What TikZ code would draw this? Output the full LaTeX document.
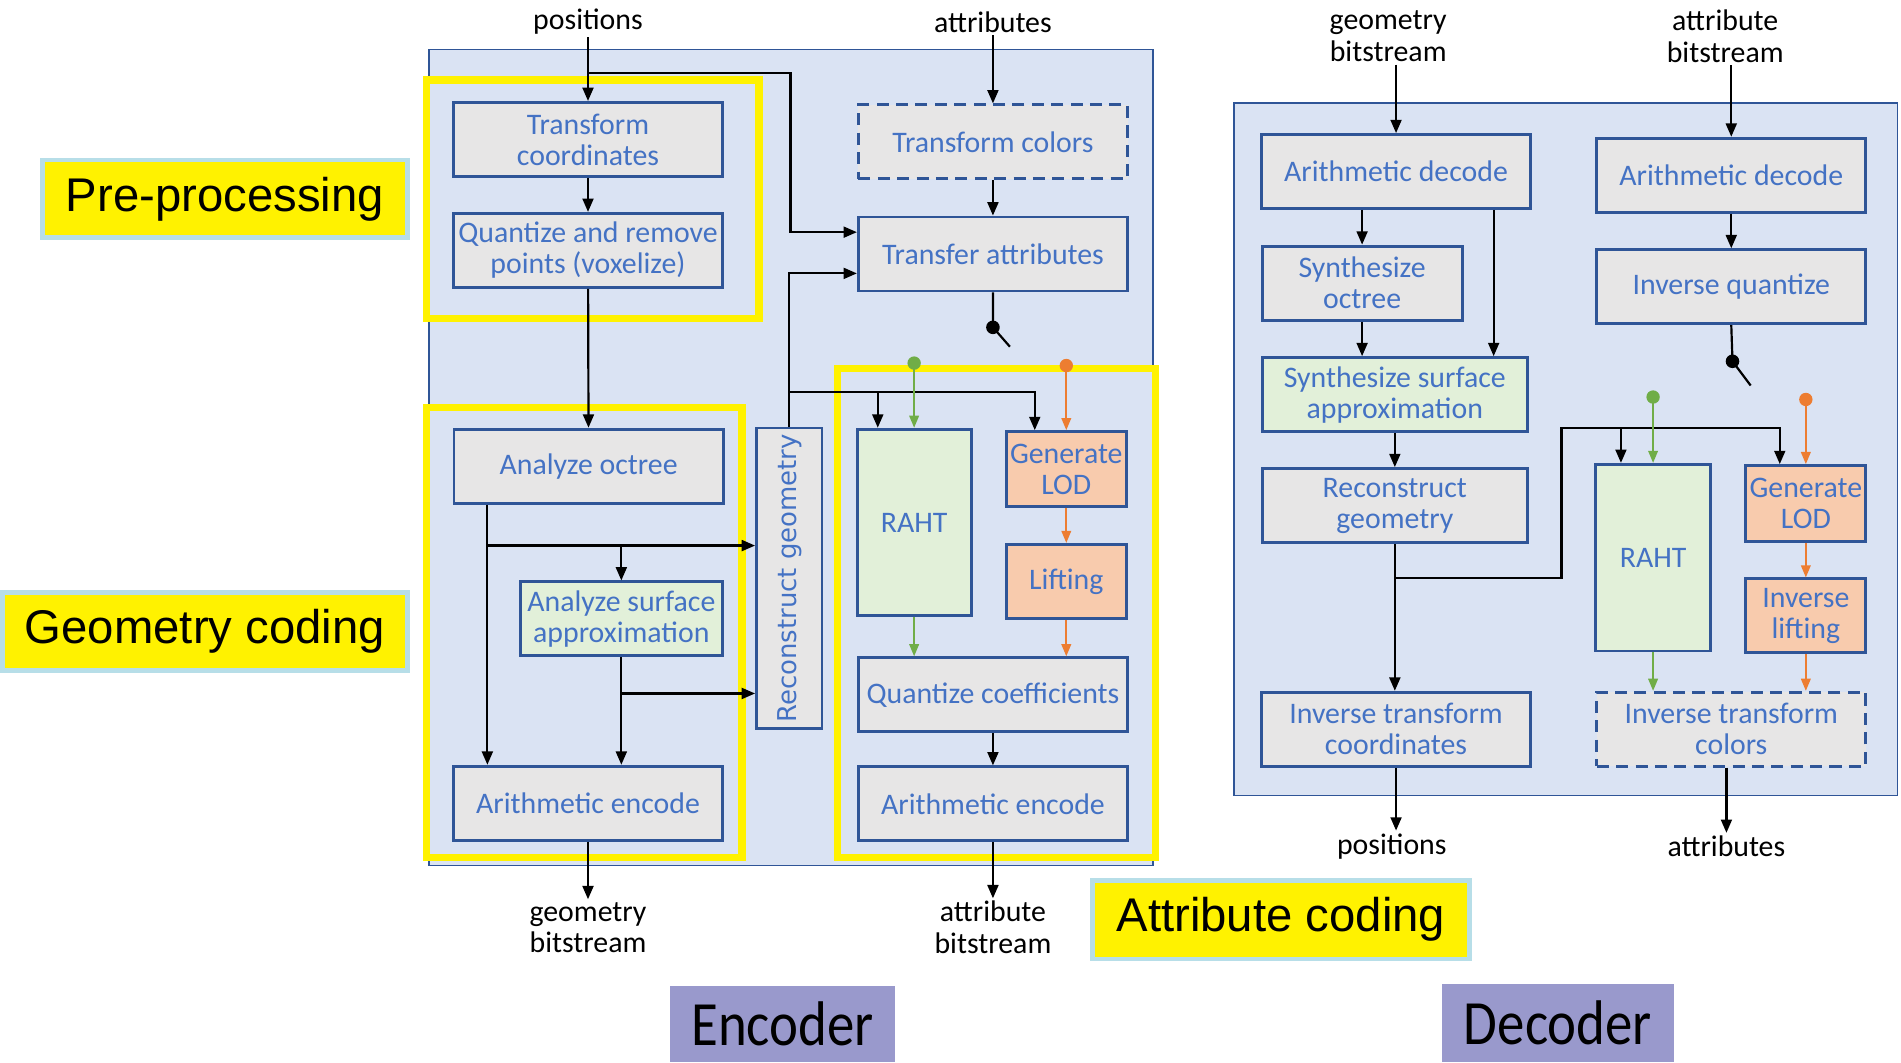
\documentclass[tikz,border=0pt]{standalone}
\usepackage{fontspec}
\setmainfont{Carlito}
\newfontfamily\tagfont{Liberation Sans}
\newfontfamily\widefont{DejaVu Sans}
\usetikzlibrary{arrows.meta,positioning}

\definecolor{panelblue}{HTML}{DAE3F3}
\definecolor{edgeblue}{HTML}{2F5597}
\definecolor{txtblue}{HTML}{4472C4}
\definecolor{boxgrey}{HTML}{E7E6E6}
\definecolor{boxgreen}{HTML}{E2F0D9}
\definecolor{boxorange}{HTML}{F8CBAD}
\definecolor{arrgreen}{HTML}{70AD47}
\definecolor{arrorange}{HTML}{ED7D31}
\definecolor{tagcyan}{HTML}{B7DEE8}
\definecolor{tagpurple}{HTML}{9999CC}

\begin{document}
\begin{tikzpicture}[x=0.5pt, y=-0.5pt,
      blk/.style={draw=edgeblue, line width=1.2pt, fill=boxgrey, text=txtblue, align=center,
                  minimum width=111pt, minimum height=30.5pt, inner sep=1pt,
                  font=\fontsize{12.3}{12.8}\selectfont},
      gblk/.style={blk, fill=boxgreen},
      oblk/.style={blk, fill=boxorange},
      dblk/.style={blk, dash pattern=on 5pt off 3pt},
      io/.style={align=center, inner sep=1pt, font=\fontsize{12.3}{13}\selectfont},
      arr/.style={-{Triangle[length=5.5pt,width=4.5pt]}, line width=0.9pt},
      wire/.style={line width=0.9pt},
      gstep/.style={-{Triangle[length=5pt,width=4pt]}, draw=arrgreen, line width=0.7pt},
      ostep/.style={gstep, draw=arrorange},
      garr/.style={{Circle[length=5.5pt]}-{Triangle[length=5pt,width=4pt]}, draw=arrgreen, line width=0.7pt},
      oarr/.style={garr, draw=arrorange},
      frame/.style={draw=yellow, line width=3pt},
      tag/.style={fill=yellow, draw=tagcyan, line width=2pt, inner sep=0pt,
                  font=\tagfont\fontsize{19.5}{22}\selectfont},
      side/.style={fill=tagpurple, inner sep=0pt, font=\fontsize{26}{28}\selectfont}
    ]
    \useasboundingbox (0,0) rectangle (1568,876);

    % panels and stage frames
    \draw[edgeblue, line width=0.6pt, fill=panelblue] (354,41) rectangle (951,714);
    \draw[edgeblue, line width=0.6pt, fill=panelblue] (1018,85) rectangle (1565,656);
    \draw[frame] (352,66) rectangle (626,263);
    \draw[frame] (352,336) rectangle (612,707);
    \draw[frame] (691,304) rectangle (953,707);

    % encoder blocks
    \node[io] (posIn) at (485,18) {positions};
    \node[io] (attrIn) at (819,18) {attributes};
    \node[blk] (tcoord) at (485,115) {Transform\\coordinates};
    \node[blk] (quant) at (485,206.5) {Quantize and remove\\points (voxelize)};
    \node[blk] (aoct) at (485.5,384.5) {Analyze octree};
    \node[gblk, minimum width=83.5pt] (asurf) at (512.5,510.5) {Analyze surface\\approximation};
    \node[blk] (aencG) at (485,662.5) {Arithmetic encode};
    \node[blk, minimum width=27pt, minimum height=124pt] (rg) at (651,477)
        {\rotatebox{90}{\widefont\fontsize{10.7}{12}\selectfont Reconstruct geometry}};
    \node[dblk] (tcol) at (819,117) {Transform colors};
    \node[blk] (xfer) at (819,209.5) {Transfer attributes};
    \node[gblk, minimum width=47pt, minimum height=77pt] (rahtE) at (754,431) {RAHT};
    \node[oblk, minimum width=49.5pt, minimum height=31pt] (lodE) at (879.5,387) {Generate\\LOD};
    \node[oblk, minimum width=49.5pt] (liftE) at (879.5,479.5) {Lifting};
    \node[blk] (qcoef) at (819,573) {Quantize coefficients};
    \node[blk] (aencA) at (819,663) {Arithmetic encode};
    \node[io] (gbsOut) at (485,765) {geometry\\bitstream};
    \node[io] (absOut) at (819,765) {attribute\\bitstream};

    % decoder blocks
    \node[io] (gbsIn) at (1145,30) {geometry\\bitstream};
    \node[io] (absIn) at (1423,30) {attribute\\bitstream};
    \node[blk] (adecG) at (1151.5,141.5) {Arithmetic decode};
    \node[blk, minimum width=82.5pt] (synOct) at (1123.5,233.5) {Synthesize\\octree};
    \node[gblk, minimum width=109.5pt] (synSurf) at (1150.5,325.5) {Synthesize surface\\approximation};
    \node[blk, minimum width=109.5pt] (recG) at (1150.5,417) {Reconstruct\\geometry};
    \node[blk] (itc) at (1151.5,601.5) {Inverse transform\\coordinates};
    \node[blk] (adecA) at (1428,144.5) {Arithmetic decode};
    \node[blk] (iquant) at (1428,236.5) {Inverse quantize};
    \node[gblk, minimum width=47.5pt, minimum height=77pt] (rahtD) at (1363.5,460) {RAHT};
    \node[oblk, minimum width=49.5pt, minimum height=31.5pt] (lodD) at (1489.5,415.5) {Generate\\LOD};
    \node[oblk, minimum width=49.5pt] (iliftD) at (1489.5,508) {Inverse\\lifting};
    \node[dblk] (itcol) at (1428,601.5) {Inverse transform\\colors};
    \node[io] (posOut) at (1148,698) {positions};
    \node[io] (attrOut) at (1424,698) {attributes};

    % encoder connectors
    \coordinate (splitE) at (485,60);
    \coordinate (busE) at (652,60);
    \coordinate (xferA) at ([yshift=9pt]xfer.west);
    \coordinate (xferB) at ([yshift=-8pt]xfer.west);
    \draw[arr] (posIn) -- (tcoord);
    \draw[arr] (splitE) -- (busE) |- (xferA);
    \draw[arr] (tcoord) -- (quant);
    \draw[arr] (quant) -- (aoct);
    \coordinate (aoctL) at ([xshift=-41.75pt]aoct.south);
    \draw[arr] (aoctL) -- (aoctL |- aencG.north);
    \coordinate (splitG) at (402,450);
    \draw[arr] (splitG) -- (splitG -| rg.west);
    \draw[arr] (splitG -| asurf.north) -- (asurf.north);
    \draw[arr] (asurf.south) -- (asurf.south |- aencG.north);
    \coordinate (splitS) at (512.5,572);
    \draw[arr] (splitS) -- (splitS -| rg.west);
    \draw[arr] (rg.north) |- (xferB);
    \coordinate (splitR) at (651,323);
    \coordinate (lodEin) at ([xshift=-13pt]lodE.north);
    \coordinate (rahtEin) at ([xshift=-15pt]rahtE.north);
    \draw[arr] (splitR) -| (lodEin);
    \draw[arr] (splitR -| rahtEin) -- (rahtEin);
    \draw[arr] (attrIn) -- (tcol);
    \draw[arr] (tcol) -- (xfer);
    \coordinate (swE) at (819,270);
    \coordinate (swEend) at (833,286);
    \draw[wire] (xfer.south) -- (swE) -- (swEend);
    \fill (swE) circle (2.8pt);
    \coordinate (gsrcE) at (754,294);
    \coordinate (osrcE) at (879.5,296);
    \draw[garr] (gsrcE) -- (gsrcE |- rahtE.north);
    \draw[oarr] (osrcE) -- (osrcE |- lodE.north);
    \draw[ostep] (lodE) -- (liftE);
    \draw[gstep] (rahtE.south) -- (rahtE.south |- qcoef.north);
    \draw[ostep] (liftE.south) -- (liftE.south |- qcoef.north);
    \draw[arr] (qcoef) -- (aencA);
    \draw[arr] (aencG) -- (gbsOut);
    \draw[arr] (aencA) -- (absOut);

    % decoder connectors
    \draw[arr] (adecG.north |- gbsIn.south) -- (adecG.north);
    \draw[arr] (adecA.north |- absIn.south) -- (adecA.north);
    \draw[arr] (synOct.north |- adecG.south) -- (synOct.north);
    \coordinate (adecGR) at ([xshift=40.25pt]adecG.south);
    \draw[arr] (adecGR) -- (adecGR |- synSurf.north);
    \draw[arr] (synOct.south) -- (synOct.south |- synSurf.north);
    \draw[arr] (synSurf) -- (recG);
    \draw[arr] (recG.south) -- (recG.south |- itc.north);
    \coordinate (splitD) at (1150.5,477);
    \coordinate (busD) at (1288,353);
    \coordinate (lodDin) at ([xshift=-10.75pt]lodD.north);
    \coordinate (rahtDin) at ([xshift=-13.25pt]rahtD.north);
    \draw[arr] (splitD) -| (busD) -| (lodDin);
    \draw[arr] (busD -| rahtDin) -- (rahtDin);
    \draw[arr] (adecA) -- (iquant);
    \coordinate (swD) at (1429,298);
    \coordinate (swDend) at (1444,318);
    \draw[wire] (iquant.south) -- (swD) -- (swDend);
    \fill (swD) circle (2.8pt);
    \coordinate (gsrcD) at (1363.5,322);
    \coordinate (osrcD) at (1489.5,324);
    \draw[garr] (gsrcD) -- (gsrcD |- rahtD.north);
    \draw[oarr] (osrcD) -- (osrcD |- lodD.north);
    \draw[ostep] (lodD) -- (iliftD);
    \draw[gstep] (rahtD.south) -- (rahtD.south |- itcol.north);
    \draw[ostep] (iliftD.south) -- (iliftD.south |- itcol.north);
    \draw[arr] (itc.south) -- (itc.south |- posOut.north);
    \draw[arr] (attrOut.north |- itcol.south) -- (attrOut.north);

    % stage tags
    \node[tag, minimum width=150.5pt, minimum height=32pt] (preTag) at (185.5,164) {Pre-processing};
    \node[tag, minimum width=167pt, minimum height=32pt] (geoTag) at (169,521) {Geometry coding};
    \node[tag, minimum width=155.5pt, minimum height=32.5pt] (attTag) at (1056.5,758.5) {Attribute coding};
    \node[side, minimum width=92.5pt, minimum height=31.5pt] (encTag) at (645.5,844.5) {\scalebox{0.87}[1]{Encoder}};
    \node[side, minimum width=96pt, minimum height=32pt] (decTag) at (1285,844) {\scalebox{0.87}[1]{Decoder}};
\end{tikzpicture}
\end{document}
